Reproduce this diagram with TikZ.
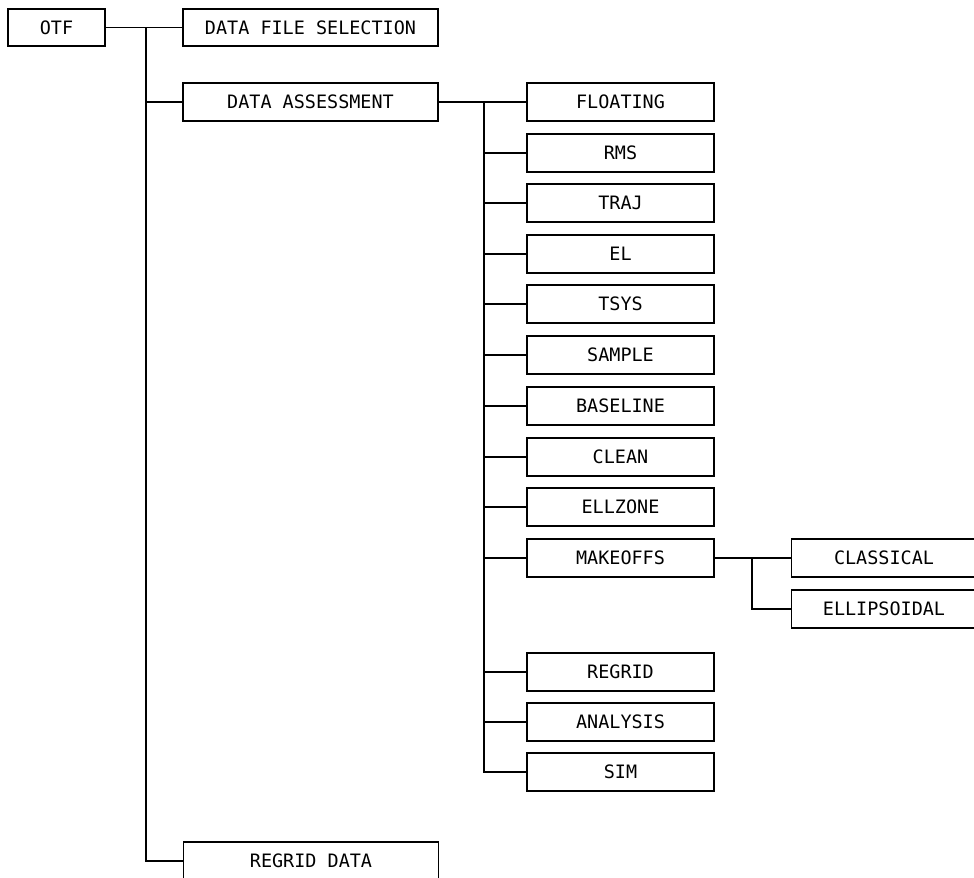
\documentclass[tikz,border=0pt]{standalone}
\usepackage{fontspec}
\usepackage{tikz}
\usetikzlibrary{positioning}
\newfontfamily\boxfont{DejaVu Sans Mono}

\tikzset{
  box/.style={draw, line width=1pt, inner sep=0pt, minimum height=0.75cm,
    font=\boxfont\fontsize{10.5}{12}\selectfont},
  topbox/.style={box, minimum width=1.94cm},
  mainbox/.style={box, minimum width=5.1cm},
  rbox/.style={box, minimum width=3.74cm},
  subbox/.style={box, minimum width=3.7cm},
  link/.style={line width=1pt}
}

\begin{document}
\begin{tikzpicture}[x=0.02cm, y=-0.02cm]

  \useasboundingbox (0,0) rectangle (974,877);

  %% Root and first level
  \node[topbox] (otf) at (56.5,27.5) {OTF};
  \node[mainbox] (dfs) at (310.5,27.5) {DATA FILE SELECTION};
  \node[mainbox] (da) at (310.5,102) {DATA ASSESSMENT};
  \node[mainbox] (rd) at (311,861) {REGRID DATA};

  \coordinate (t0) at (146,27.5);
  \draw[link] (otf.east) -- (dfs.west);
  \draw[link] (t0) |- (da.west);
  \draw[link] (t0) |- (rd.west);

  %% Data assessment tasks
  \coordinate (t1) at (484,102);
  \foreach \nm/\lbl/\y in {
    floating/FLOATING/102,
    rms/RMS/153,
    traj/TRAJ/203,
    el/EL/254,
    tsys/TSYS/304,
    sample/SAMPLE/355,
    baseline/BASELINE/406,
    clean/CLEAN/457,
    ellzone/ELLZONE/507,
    makeoffs/MAKEOFFS/558,
    regrid/REGRID/672,
    analysis/ANALYSIS/722,
    sim/SIM/772
  }{
    \node[rbox] (\nm) at (620.5,\y) {\lbl};
    \draw[link] (t1) |- (\nm.west);
  }
  \draw[link] (da.east) -- (t1);

  %% Makeoffs options
  \node[subbox] (classical) at (884,558) {CLASSICAL};
  \node[subbox] (ellipsoidal) at (884,609) {ELLIPSOIDAL};
  \coordinate (t2) at (752,558);
  \draw[link] (makeoffs.east) -- (classical.west);
  \draw[link] (t2) |- (ellipsoidal.west);

\end{tikzpicture}
\end{document}
